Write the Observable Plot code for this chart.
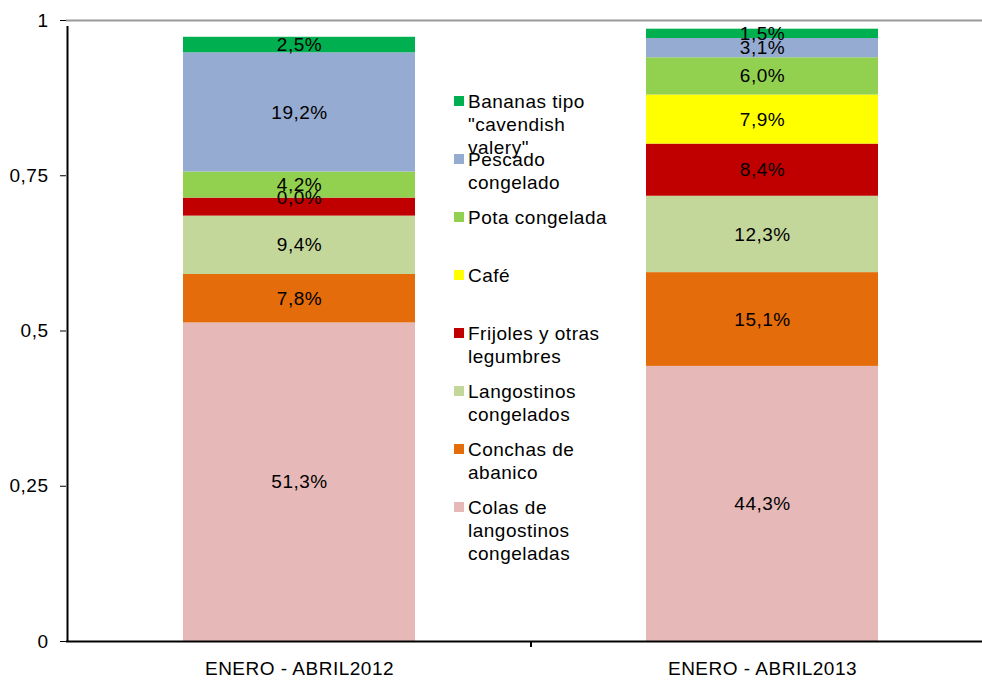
<!DOCTYPE html>
<html>
<head>
<meta charset="utf-8">
<script src="https://cdn.jsdelivr.net/npm/d3@7"></script>
<script src="https://cdn.jsdelivr.net/npm/@observablehq/plot@0.6"></script>
<style>
  body { margin: 0; background: white; }
  #wrap { position: relative; width: 982px; height: 680px; font-family: "Liberation Sans", Arial, sans-serif; }
  .leg { position: absolute; left: 454px; font-size: 19px; line-height: 23px; letter-spacing: 0.5px; color: #000; }
  .leg .sw { position: absolute; left: 0; top: 6px; width: 10px; height: 10px; }
  .leg .tx { margin-left: 14px; white-space: nowrap; }
</style>
</head>
<body>
<div id="wrap"></div>
<script>
const years = ["ENERO - ABRIL2012", "ENERO - ABRIL2013"];
const products = [
  "Colas de langostinos congeladas",
  "Conchas de abanico",
  "Langostinos congelados",
  "Frijoles y otras legumbres",
  "Café",
  "Pota congelada",
  "Pescado congelado",
  "Bananas tipo \"cavendish valery\""
];
const colors = ["#E6B9B8", "#E46C0A", "#C4D79B", "#C00000", "#FFFF00", "#92D050", "#95ABD2", "#00B050"];
const values2012 = [51.3, 7.8, 9.4, 2.9, 0.0, 4.2, 19.2, 2.5];
const values2013 = [44.3, 15.1, 12.3, 8.4, 7.9, 6.0, 3.1, 1.5];
const labels2012 = ["51,3%", "7,8%", "9,4%", "", "0,0%", "4,2%", "19,2%", "2,5%"];
const labels2013 = ["44,3%", "15,1%", "12,3%", "8,4%", "7,9%", "6,0%", "3,1%", "1,5%"];
const yTicks = [0, 0.25, 0.5, 0.75, 1];
const legendLines = [
  ["Bananas tipo", "\"cavendish", "valery\""],
  ["Pescado", "congelado"],
  ["Pota congelada"],
  ["Café"],
  ["Frijoles y otras", "legumbres"],
  ["Langostinos", "congelados"],
  ["Conchas de", "abanico"],
  ["Colas de", "langostinos", "congeladas"]
];
const legendColors = colors.slice().reverse();

const rows = [];
[[values2012, labels2012], [values2013, labels2013]].forEach(([vals, labs], j) => {
  products.forEach((p, i) => rows.push({year: years[j], product: p, value: vals[i] / 100, label: labs[i]}));
});

const xRange = [67, 993];
const step = (xRange[1] - xRange[0]) / 2;

const chart = Plot.plot({
  width: 982,
  height: 680,
  marginLeft: 66,
  marginRight: 0,
  marginTop: 20,
  marginBottom: 39,
  style: {fontFamily: "'Liberation Sans', Arial, sans-serif", fontSize: "19px", background: "white", letterSpacing: "0.5px"},
  x: {domain: years, range: xRange, paddingInner: 0.5, paddingOuter: 0.25, label: null, tickSize: 0, tickPadding: 20},
  y: {domain: [0, 1], ticks: yTicks, tickFormat: d => String(d).replace(".", ","), tickSize: 6, tickPadding: 12, label: null},
  color: {domain: products, range: colors},
  marks: [
    Plot.barY(rows, {x: "year", y: "value", fill: "product", order: products}),
    Plot.text(rows, Plot.stackY({x: "year", y: "value", z: "product", text: "label", order: products, fill: "#000", fontSize: 19})),
    Plot.ruleY([1], {stroke: "#999", strokeWidth: 2}),
    Plot.ruleY([0], {stroke: "#000", strokeWidth: 2}),
    Plot.ruleX([years[0]], {dx: -step / 2 - 0.5, y1: 0, y2: 1, stroke: "#000", strokeWidth: 2, insetBottom: -6}),
    Plot.ruleX([years[1]], {dx: -step / 2, y1: 0, y2: 0, stroke: "#000", strokeWidth: 2, insetBottom: -6})
  ]
});

const wrap = document.getElementById("wrap");
wrap.appendChild(chart);

legendLines.forEach((lines, i) => {
  const d = document.createElement("div");
  d.className = "leg";
  d.style.top = (101 + 58.1 * i - 11.5) + "px";
  const sw = document.createElement("div");
  sw.className = "sw";
  sw.style.background = legendColors[i];
  const tx = document.createElement("div");
  tx.className = "tx";
  tx.innerHTML = lines.map(l => l.replace(/&/g, "&amp;").replace(/</g, "&lt;")).join("<br>");
  d.appendChild(sw);
  d.appendChild(tx);
  wrap.appendChild(d);
});
</script>
</body>
</html>
